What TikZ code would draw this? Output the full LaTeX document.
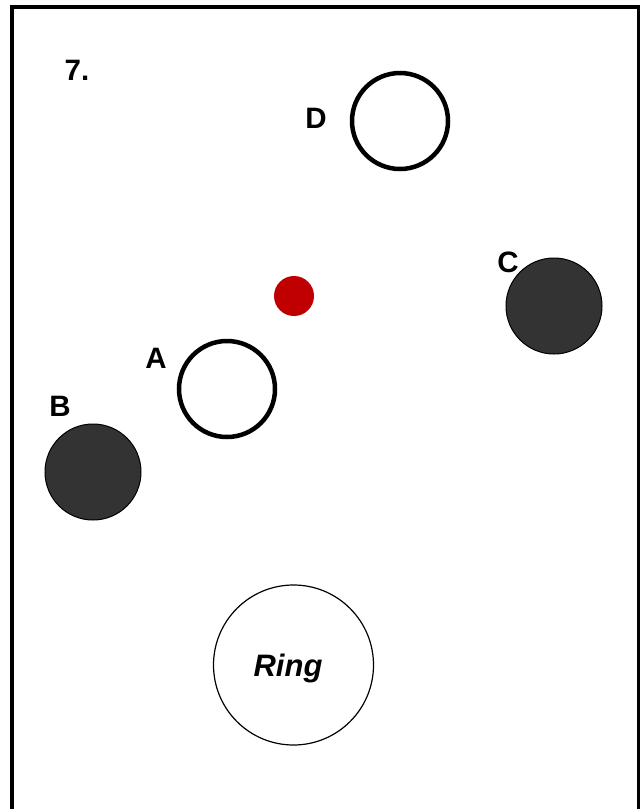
\documentclass[tikz,border=0pt]{standalone}
\usepackage{fontspec}
\setmainfont{Liberation Sans}
\definecolor{darkfill}{HTML}{333333}
\definecolor{dotred}{HTML}{C00000}
\begin{document}
\begin{tikzpicture}[x=1pt,y=-1pt,
  openring/.style={circle,draw=black,line width=4.5pt,fill=white,minimum size=96pt,inner sep=0pt},
  darkball/.style={circle,draw=black,line width=1pt,fill=darkfill,minimum size=96pt,inner sep=0pt},
  lbl/.style={font=\fontsize{29.5}{31}\selectfont\bfseries,inner sep=0pt}]
\useasboundingbox (0,0) rectangle (640,809);
\fill[white] (0,0) rectangle (640,809);
\draw[line width=4pt] (11.5,830) -- (11.5,7) -- (638.5,7) -- (638.5,830);
\node[lbl] (num) at (77,70) {7.};
\node[openring] (D) at (400,121) {};
\node[lbl] (Dl) at (316,118) {D};
\node[darkball] (C) at (554,306) {};
\node[lbl] (Cl) at (508,262) {C};
\node[circle,fill=dotred,minimum size=40pt,inner sep=0pt] (dot) at (294,296) {};
\node[openring] (A) at (227,389) {};
\node[lbl] (Al) at (156,358) {A};
\node[darkball] (B) at (93,472) {};
\node[lbl] (Bl) at (60,406) {B};
\node[circle,draw=black,line width=1.2pt,fill=white,minimum size=160pt,inner sep=0pt] (ring) at (293.5,665) {};
\node[font=\fontsize{31}{33}\selectfont\bfseries\itshape,inner sep=0pt] (ringl) at (288,668) {Ring};
\end{tikzpicture}
\end{document}
